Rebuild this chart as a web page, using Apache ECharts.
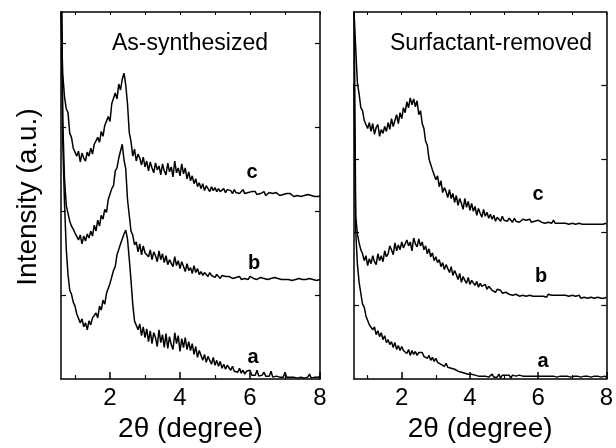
<!DOCTYPE html>
<html><head><meta charset="utf-8">
<script src="https://cdn.jsdelivr.net/npm/echarts@6/dist/echarts.min.js"></script>
<style>html,body{margin:0;padding:0;background:#fff}#c{width:616px;height:448px}</style>
</head><body><div id="c"></div>
<script>
// 2-theta grid (degrees)
const twoTheta = [
0.60,0.65,0.70,0.75,0.80,0.85,0.90,0.95,1.00,1.05,
1.10,1.15,1.20,1.25,1.30,1.35,1.40,1.45,1.50,1.55,
1.60,1.65,1.70,1.75,1.80,1.85,1.90,1.95,2.00,2.05,
2.10,2.15,2.20,2.25,2.30,2.35,2.40,2.45,2.50,2.55,
2.60,2.65,2.70,2.75,2.80,2.85,2.90,2.95,3.00,3.05,
3.10,3.15,3.20,3.25,3.30,3.35,3.40,3.45,3.50,3.55,
3.60,3.65,3.70,3.75,3.80,3.85,3.90,3.95,4.00,4.05,
4.10,4.15,4.20,4.25,4.30,4.35,4.40,4.45,4.50,4.55,
4.60,4.65,4.70,4.75,4.80,4.85,4.90,4.95,5.00,5.05,
5.10,5.15,5.20,5.25,5.30,5.35,5.40,5.45,5.50,5.55,
5.60,5.65,5.70,5.75,5.80,5.85,5.90,5.95,6.00,6.05,
6.10,6.15,6.20,6.25,6.30,6.35,6.40,6.45,6.50,6.55,
6.60,6.65,6.70,6.75,6.80,6.85,6.90,6.95,7.00,7.05,
7.10,7.15,7.20,7.25,7.30,7.35,7.40,7.45,7.50,7.55,
7.60,7.65,7.70,7.75,7.80,7.85,7.90,7.95,8.00
];
// As-synthesized (offset intensities, a.u.)
const asSynA = [
500,240,178,132,106,90,86,78,74,66,
64,57,61,53,57,50,59,55,62,60,
67,62,74,70,80,76,87,85,97,99,
110,114,126,124,137,136,147,151,142,122,
100,76,59,61,50,56,44,53,42,51,
38,49,36,47,42,33,50,37,45,32,
46,31,43,35,30,47,36,44,28,41,
32,42,30,38,29,36,25,33,22,29,
27,19,25,17,23,19,15,22,14,19,
13,18,11,15,10,14,12,9,13,8,
10,7,11,6,9,5,8,6,9,4,
6,4,9,3,5,4,7,3,5,3,
8,2,4,3,5,2,4,2,7,2,
4,2,3,2,4,1,3,2,4,1,
3,2,5,1,3,2,3,2,3
];
const asSynB = [
420,262,203,176,168,160,155,152,148,150,
141,146,137,145,140,147,143,150,145,156,
150,161,155,166,162,172,169,182,180,193,
196,211,214,224,222,238,222,213,182,166,
150,146,136,139,129,137,126,135,128,130,
124,131,121,129,125,119,130,121,127,118,
125,116,121,119,114,124,115,120,112,119,
114,109,117,110,113,107,115,108,112,106,
109,105,108,106,104,108,105,106,103,106,
104,102,105,103,104,102,104,103,102,104,
103,102,104,101,103,102,103,101,104,102,
102,103,101,102,103,101,102,102,101,103,
102,101,103,101,102,101,101,103,101,102,
101,102,100,102,101,101,102,100,101,102,
101,100,102,100,101,101,100,102,101
];
const asSynC = [
372,309,286,274,270,249,245,234,236,226,
231,220,229,224,221,230,226,234,228,238,
236,245,240,251,246,257,255,266,261,279,
279,290,284,299,293,304,310,298,279,250,
241,226,233,221,228,224,217,225,215,221,
211,220,214,209,219,212,216,207,218,211,
207,219,210,215,205,221,209,214,206,218,
208,214,203,210,201,206,198,203,195,199,
193,198,191,196,193,190,195,191,194,190,
193,190,191,193,189,192,190,191,188,192,
189,191,188,190,192,188,190,189,187,190,
188,190,187,189,188,187,190,186,188,189,
187,188,186,189,187,186,188,187,186,188,
186,188,187,185,187,186,188,185,187,186,
186,187,185,186,188,185,186,185,186
];
// Surfactant-removed
const remA = [
300,150,116,98,87,76,73,64,62,55,
57,50,53,45,49,43,47,40,44,37,
40,35,38,32,37,30,34,29,33,29,
31,26,30,24,29,25,28,24,27,26,
27,23,25,21,24,19,22,18,21,17,
18,15,17,13,16,12,14,11,13,10,
11,8,10,7,9,6,8,5,7,5,
6,4,5,3,5,3,4,3,4,2,
2,5,2,4,2,5,1,4,2,4,
2,4,1,4,2,3,1,4,2,3,
1,3,2,3,1,3,2,3,1,3,
2,3,1,3,2,3,1,3,2,2,
1,3,2,3,1,3,2,2,1,3,
2,3,1,2,2,3,1,3,2,2,
1,3,2,3,1,2,2,3,2
];
const remB = [
400,165,147,138,131,127,120,125,115,122,
117,125,119,116,127,120,125,119,130,124,
127,135,131,126,138,130,136,131,139,133,
132,141,135,139,130,143,137,134,142,135,
139,131,135,127,132,124,128,120,124,118,
121,114,118,111,116,112,108,114,105,110,
106,101,107,98,104,100,97,103,96,100,
98,95,99,93,97,94,92,96,91,94,
93,90,92,88,91,89,90,87,89,88,
88,86,88,85,87,86,87,84,86,85,
87,84,86,85,86,84,86,84,85,84,
86,84,85,83,86,84,85,83,85,84,
85,83,85,84,85,83,84,83,85,83,
84,83,85,82,84,83,84,82,84,83,
84,82,84,83,84,82,83,82,83
];
const remC = [
372,335,300,289,275,272,262,264,254,260,
251,259,248,255,258,246,253,249,256,251,
260,253,264,256,262,268,259,270,264,275,
270,281,275,285,278,284,276,282,268,272,
259,254,241,237,223,225,212,214,202,206,
195,201,189,194,190,184,192,183,188,179,
186,176,183,178,172,183,174,180,171,178,
170,175,166,173,168,164,172,165,169,163,
167,162,166,160,164,162,160,165,161,163,
160,163,161,159,163,160,162,159,161,162,
160,161,159,162,159,161,160,158,161,159,
159,161,158,160,159,160,158,161,158,160,
158,160,158,159,158,160,157,159,158,159,
157,159,158,159,157,159,157,158,157,159,
157,158,157,159,157,158,157,158,158
];
const majorTicks = [2,4,6,8];
const minorTicks = [1,3,5,7];
const allTicks = [1,2,3,4,5,6,7,8];
const leftYTicks = [85,170,255,340];
const rightYTicks = [74.4,148.8,223.2,297.6];
const panelTitles = ['As-synthesized','Surfactant-removed'];
const curveNames = ['a','b','c'];

const FONT = '"Liberation Sans", Arial, Helvetica, sans-serif';
const chart = echarts.init(document.getElementById('c'), null, {renderer:'canvas'});
const pair = ys => twoTheta.map((x,i)=>[x, ys[i]]);
const axLine = {show:true, onZero:false, lineStyle:{color:'#000', width:1.5}};
function xAxes(g){
  return [
    {gridIndex:g, type:'value', min:0.6, max:8, position:'bottom', axisLine:axLine,
     axisTick:{show:true, inside:true, length:7, customValues:majorTicks, lineStyle:{color:'#000', width:1.5}},
     axisLabel:{show:true, customValues:majorTicks, fontSize:24, color:'#000', fontFamily:FONT, margin:7},
     splitLine:{show:false}, name:'2θ (degree)', nameLocation:'middle', nameGap:33,
     nameTextStyle:{fontSize:28, color:'#000', fontFamily:FONT}},
    {gridIndex:g, type:'value', min:0.6, max:8, position:'bottom', axisLine:{show:false},
     axisTick:{show:true, inside:true, length:4, customValues:minorTicks, lineStyle:{color:'#000', width:1.2}},
     axisLabel:{show:false}, splitLine:{show:false}},
    {gridIndex:g, type:'value', min:0.6, max:8, position:'top', axisLine:axLine,
     axisTick:{show:true, inside:true, length:3, customValues:allTicks, lineStyle:{color:'#000', width:1}},
     axisLabel:{show:false}, splitLine:{show:false}}
  ];
}
function yAxes(g, ticks){
  return ['left','right'].map(p=>({gridIndex:g, type:'value', min:0, max:372, position:p, axisLine:axLine,
     axisTick:{show:true, inside:true, length:5, customValues:ticks, lineStyle:{color:'#000', width:1.2}},
     axisLabel:{show:false}, splitLine:{show:false}}));
}
const lineS = (ys, xi, yi) => ({type:'line', data:pair(ys), xAxisIndex:xi, yAxisIndex:yi,
  showSymbol:false, symbol:'none', clip:true, lineStyle:{color:'#000', width:1.5}, animation:false, silent:true});

const txt = (s, x, y, size, bold) => ({type:'text', x:x, y:y, silent:true,
  style:{text:s, fill:'#000', font:(bold?'bold ':'')+size+'px '+FONT, textAlign:'center', textVerticalAlign:'middle'}});

chart.setOption({
  animation:false,
  backgroundColor:'#fff',
  grid:[{left:61, top:12, width:259, height:372}, {left:354, top:12, width:259, height:372}],
  xAxis:[...xAxes(0), ...xAxes(1)],
  yAxis:[...yAxes(0, leftYTicks), ...yAxes(1, rightYTicks)],
  series:[
    lineS(asSynA,0,0), lineS(asSynB,0,0), lineS(asSynC,0,0),
    lineS(remA,3,2), lineS(remB,3,2), lineS(remC,3,2)
  ],
  graphic:[
    txt(panelTitles[0], 190, 44, 23, false),
    txt(panelTitles[1], 491, 44, 23, false),
    txt(curveNames[2], 252, 172, 20, true),
    txt(curveNames[1], 254, 263, 20, true),
    txt(curveNames[0], 253, 357, 20, true),
    txt(curveNames[2], 538, 194, 20, true),
    txt(curveNames[1], 541, 276, 20, true),
    txt(curveNames[0], 543, 361, 20, true),
    {type:'text', x:28, y:197, rotation:Math.PI/2, silent:true,
     style:{text:'Intensity (a.u.)', fill:'#000', font:'28px '+FONT, textAlign:'center', textVerticalAlign:'middle'}}
  ]
});
</script></body></html>
